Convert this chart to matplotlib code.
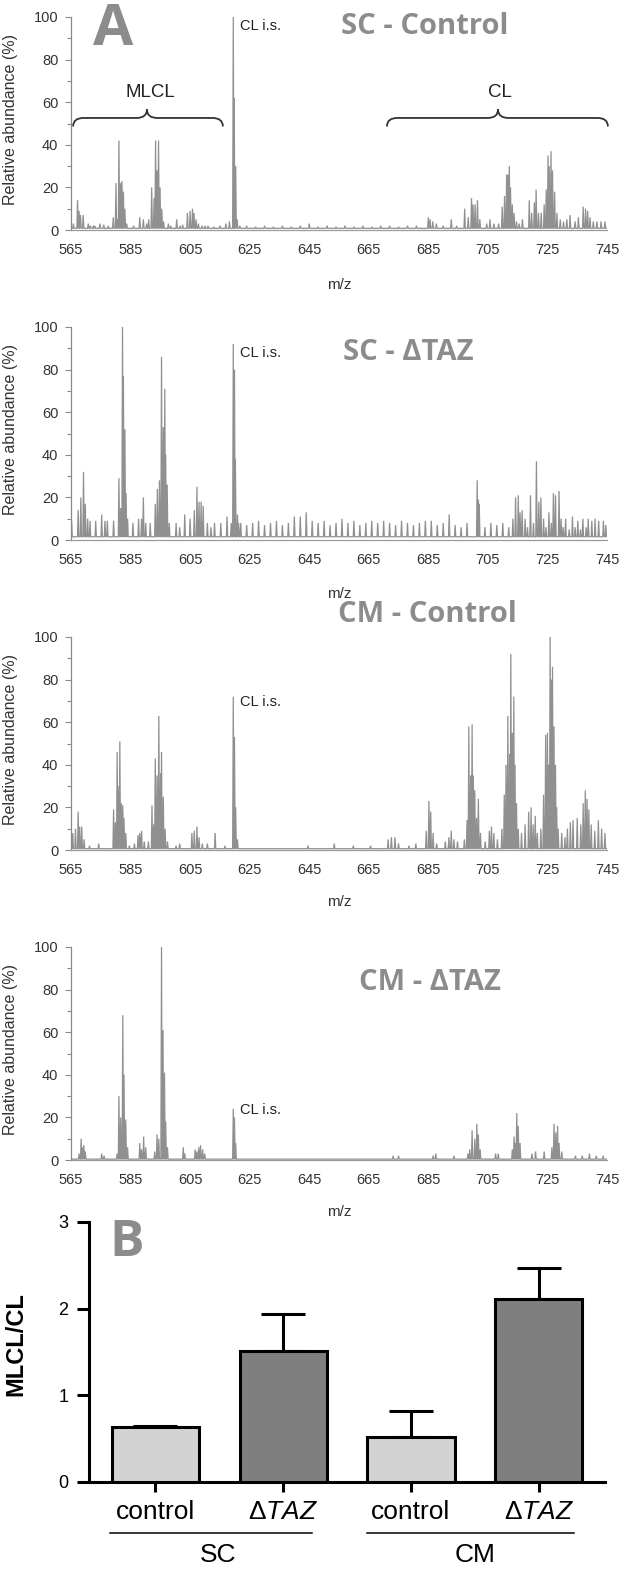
import matplotlib
matplotlib.use('Agg')
import matplotlib.pyplot as plt
import matplotlib.transforms as mtransforms
from matplotlib.path import Path
from matplotlib.patches import PathPatch
from matplotlib.ticker import MultipleLocator

plt.rcParams['font.family'] = ['Liberation Sans', 'DejaVu Sans']
plt.rcParams['mathtext.fontset'] = 'custom'
plt.rcParams['mathtext.rm'] = 'Liberation Sans'
plt.rcParams['mathtext.it'] = 'Liberation Sans:italic'

# ---------------- data: spectra (m/z, relative abundance %) ----------------
sc_control_peaks = [
    (565.8, 3), (567.2, 14), (567.7, 9), (568.2, 7), (569.1, 7), (570.8, 3), (571.5, 2),
    (572.5, 2), (573.0, 2), (574.7, 3), (576.0, 2.5), (577.5, 2), (579.2, 6), (580.1, 22),
    (580.6, 5), (581.1, 42), (581.7, 22), (582.1, 23), (582.6, 18), (583.1, 10), (583.7, 3),
    (586.0, 2), (588.1, 6), (589.3, 5), (590.4, 3), (591.1, 5), (592.1, 20), (592.9, 15),
    (593.4, 42), (593.9, 28), (594.4, 42), (594.9, 20), (595.5, 10), (596.1, 4), (597.7, 3),
    (598.5, 2), (600.5, 5), (601.6, 2), (602.5, 2.5), (604.1, 8), (605.0, 9), (605.8, 10),
    (606.3, 8), (607.0, 5), (607.8, 3), (609.0, 2), (610.0, 2), (611.0, 2), (613.0, 1.5),
    (615.0, 2), (617.0, 3), (618.2, 4), (619.5, 100), (619.8, 62), (620.3, 30), (620.8, 5),
    (621.7, 2), (624, 2), (627, 1.5), (630, 2), (633, 1.5), (636, 2), (639, 1.5), (642, 2),
    (645, 3), (648, 1.5), (651, 2), (654, 1.5), (657, 2), (660, 1.5), (663, 2), (666, 1.5),
    (669, 2), (672, 2), (675, 1.5), (678, 2), (681, 2),
    (685.0, 6), (685.6, 5), (686.5, 4), (687.7, 3), (690.0, 2), (692.7, 5), (694.5, 2),
    (697.2, 10), (698.4, 6), (699.5, 15), (700.0, 12), (700.7, 12), (701.5, 14), (702.3, 5),
    (704.6, 3), (705.7, 5), (707.0, 3), (708.6, 3), (709.8, 11), (710.6, 16), (711.3, 26),
    (711.7, 26), (712.2, 30), (712.6, 20), (713.2, 12), (713.8, 8), (714.6, 4), (715.5, 3),
    (716.6, 5), (718.9, 14), (719.7, 8), (720.6, 13), (721.2, 19), (722.0, 8), (722.9, 8),
    (723.9, 12), (724.6, 19), (725.2, 35), (725.6, 30), (726.2, 37), (726.7, 28), (727.4, 18),
    (728.2, 8), (729.3, 5), (730.4, 4), (731.5, 5), (732.6, 7), (734.3, 4), (735.4, 6),
    (737.0, 11), (737.8, 10), (738.5, 9), (739.3, 6), (740.4, 4), (741.6, 4), (743.0, 4),
    (744.3, 4),
]

sc_taz_peaks = [
    (565.2, 9), (567.4, 14), (568.3, 20), (569.2, 32), (569.8, 17), (570.6, 10), (571.4, 9),
    (573.3, 9), (575.3, 12), (576.4, 9), (577.2, 9), (579.3, 9), (581.1, 29), (581.7, 15),
    (582.3, 100), (582.6, 77), (583.1, 52), (583.5, 22), (584.0, 10), (585.8, 8), (587.7, 10),
    (588.7, 10), (589.3, 20), (590.1, 8), (591.6, 8), (593.3, 17), (594.0, 24), (594.7, 28),
    (595.4, 86), (596.0, 53), (596.5, 71), (596.8, 40), (597.3, 26), (598.0, 8), (600.3, 8),
    (601.5, 6), (603.2, 12), (605.0, 10), (606.4, 14), (607.3, 25), (608.0, 18), (608.7, 18),
    (609.4, 16), (610.8, 8), (612.0, 6), (613.2, 8), (615.3, 8), (617.4, 11), (618.8, 8),
    (619.5, 92), (619.9, 80), (620.2, 38), (620.9, 12), (621.3, 8),
    (622, 8), (624, 7), (626, 8), (628, 9), (630, 7), (632, 8), (634, 9), (636, 7), (638, 8),
    (640, 11), (642, 11), (644, 13), (646, 9), (648, 8), (650, 9), (652, 7), (654, 8),
    (656, 10), (658, 8), (660, 9), (662, 7), (664, 8), (666, 9), (668, 8), (670, 9), (672, 8),
    (674, 7), (676, 9), (678, 8), (680, 7), (682, 8), (684, 9), (686, 9), (688, 7), (690, 8),
    (692, 12), (694, 7), (696, 6), (698, 8),
    (701.4, 28), (701.8, 19), (702.1, 17), (704, 6), (706, 8), (708, 7), (710, 8), (712, 6),
    (713.4, 10), (714.3, 20), (715.2, 21), (715.8, 13), (716.5, 14), (717.5, 10), (718.3, 6),
    (719.3, 21), (720.3, 8), (721.3, 37), (722.1, 18), (722.8, 20), (723.7, 10), (724.5, 6),
    (725.5, 13), (726.3, 8), (727.0, 22), (727.7, 21), (728.9, 23), (729.6, 10), (730.3, 6),
    (731.1, 10), (732.3, 5), (733.4, 11), (734.3, 6), (735.2, 9), (736.1, 5), (736.9, 10),
    (738.0, 6), (738.7, 10), (739.9, 9), (741.0, 10), (742.2, 9), (743.8, 9), (744.6, 7),
]

cm_control_peaks = [
    (565.6, 8), (566.5, 10), (567.4, 18), (567.9, 11), (568.6, 11), (569.4, 5), (571.2, 2),
    (574.3, 3), (579.3, 19), (579.9, 13), (580.5, 46), (581.1, 30), (581.4, 51), (581.9, 22),
    (582.4, 21), (582.8, 15), (583.4, 8), (584.6, 2), (586.3, 3), (587.5, 7), (588.1, 8),
    (588.7, 9), (589.6, 4), (591.0, 4), (592.2, 21), (592.8, 12), (593.3, 43), (593.9, 35),
    (594.5, 63), (595.1, 36), (595.4, 46), (596.0, 25), (596.6, 10), (597.4, 4), (600.3, 2),
    (601.5, 3), (605.6, 8), (606.4, 9), (607.3, 11), (608.0, 6), (609.1, 3), (610.8, 3),
    (613.4, 8), (616.7, 2), (619.5, 72), (619.9, 53), (620.3, 20), (620.9, 5),
    (644.6, 2), (653.4, 3), (659.8, 2), (665.6, 2), (671.5, 5), (672.6, 6), (673.8, 6),
    (675.0, 3), (678.5, 2), (680.8, 3), (684.3, 9), (685.2, 23), (685.8, 18), (686.6, 8),
    (687.8, 3), (690.7, 4), (691.9, 6), (692.7, 9), (693.6, 5), (694.8, 4), (697.1, 5),
    (698.0, 14), (698.6, 58), (699.2, 35), (699.7, 59), (700.1, 35), (700.6, 28), (701.2, 15),
    (701.8, 24), (702.5, 8), (704.1, 4), (705.5, 9), (706.2, 11), (707.0, 8), (708.2, 5),
    (709.7, 10), (710.5, 26), (711.1, 40), (711.7, 63), (712.3, 45), (712.7, 92), (713.2, 55),
    (713.7, 72), (714.1, 40), (714.6, 22), (715.2, 10), (716.3, 8), (717.5, 12), (718.7, 18),
    (719.5, 20), (720.2, 12), (720.9, 16), (721.6, 8), (722.8, 10), (723.7, 26), (724.4, 54),
    (725.0, 55), (725.4, 40), (725.9, 100), (726.4, 80), (726.7, 86), (727.2, 58), (727.7, 40),
    (728.1, 20), (728.6, 10), (729.8, 8), (730.9, 6), (731.7, 10), (732.7, 13), (733.6, 14),
    (735.0, 15), (736.2, 12), (737.0, 22), (737.7, 28), (738.3, 24), (738.9, 19), (739.7, 12),
    (740.9, 9), (742.1, 14), (743.2, 10), (744.3, 8),
]

cm_taz_peaks = [
    (567.7, 3), (568.4, 10), (568.8, 6), (569.3, 7), (569.8, 4), (575.3, 3), (576.1, 2),
    (580.5, 3), (581.1, 30), (581.7, 20), (582.4, 68), (582.8, 40), (583.4, 19), (584.0, 6),
    (588.1, 8), (588.7, 5), (589.4, 11), (590.1, 6), (593.1, 4), (593.9, 12), (594.5, 10),
    (595.4, 100), (595.9, 61), (596.4, 41), (596.8, 18), (597.4, 6), (602.7, 6), (603.2, 3),
    (606.7, 5), (607.3, 4), (607.9, 6), (608.5, 7), (609.2, 5), (609.9, 3), (619.5, 24),
    (619.9, 20), (620.3, 8), (673.2, 2), (675.0, 2), (686.6, 2), (687.5, 3), (693.6, 2),
    (698.3, 3), (698.9, 5), (699.7, 14), (700.6, 10), (701.3, 17), (701.8, 12), (702.4, 5),
    (707.6, 3), (708.5, 3), (713.2, 5), (713.8, 11), (714.2, 8), (714.7, 22), (715.2, 16),
    (715.8, 8), (719.8, 3), (721.0, 4), (723.9, 4), (726.5, 6), (727.2, 17), (727.8, 13),
    (728.4, 16), (728.9, 8), (729.8, 4), (734.4, 2), (736.7, 2), (739.1, 3), (741.4, 2),
    (743.7, 2),
]

spectra_titles = ['SC - Control', 'SC - ΔTAZ', 'CM - Control', 'CM - ΔTAZ']
spectra_base = [0.8, 1.5, 0.6, 0.4]
mz_ticks = [565, 585, 605, 625, 645, 665, 685, 705, 725, 745]

# ---------------- data: panel B ----------------
groups = ['SC', 'CM']
conditions = ['control', r'$\Delta\mathit{TAZ}$', 'control', r'$\Delta\mathit{TAZ}$']
ratio_mean = [0.63, 1.51, 0.52, 2.11]
ratio_err = [0.02, 0.43, 0.30, 0.36]
bar_colors = ['#d3d3d3', '#7f7f7f', '#d3d3d3', '#7f7f7f']

W, H = 629, 1574
fig = plt.figure(figsize=(W / 100, H / 100), dpi=100)


def px_axes(left, top, right, bottom):
    return fig.add_axes([left / W, 1 - bottom / H, (right - left) / W, (bottom - top) / H])


def ftext(x, y, s, **kw):
    fig.text(x / W, 1 - y / H, s, **kw)


def brace(ax, x0, x1, xt, y, h, d):
    verts = [(x0, y - h), (x0, y), (x0 + d, y), (xt - d, y), (xt, y), (xt, y + h),
             (xt, y), (xt + d, y), (x1 - d, y), (x1, y), (x1, y - h)]
    codes = [Path.MOVETO, Path.CURVE3, Path.CURVE3, Path.LINETO, Path.CURVE3, Path.CURVE3,
             Path.CURVE3, Path.CURVE3, Path.LINETO, Path.CURVE3, Path.CURVE3]
    ax.add_patch(PathPatch(Path(verts, codes), fc='none', ec='#333333', lw=1.3, clip_on=False))


def draw_spectrum(ax, peaks, base):
    peaks = sorted(peaks)
    xs, ys = [565], [base]
    for mz, h in peaks:
        xs += [mz - 0.22, mz, mz + 0.22]
        ys += [base, h, base]
    xs.append(745)
    ys.append(base)
    ax.plot(xs, ys, color='#909090', lw=0.9, solid_joinstyle='miter')


spec_boxes = [(71, 17, 607, 230), (71, 327, 607, 540), (71, 637, 607, 850), (71, 947, 607, 1160)]
all_peaks = [sc_control_peaks, sc_taz_peaks, cm_control_peaks, cm_taz_peaks]
mz_label_y = [-0.225, -0.22, -0.211, -0.211]
cl_is_y = [96, 88, 69.5, 23.5]
title_pos = [(425, 26), (408, 352), (427, 615), (430, 982)]

for i, box in enumerate(spec_boxes):
    ax = px_axes(*box)
    draw_spectrum(ax, all_peaks[i], spectra_base[i])
    ax.set_xlim(565, 745)
    ax.set_ylim(0, 100)
    for s in ['top', 'right']:
        ax.spines[s].set_visible(False)
    ax.spines['left'].set_color('#8a8a8a')
    ax.spines['bottom'].set_color('#9a9a9a')
    ax.spines['left'].set_linewidth(0.9)
    ax.spines['bottom'].set_linewidth(0.9)
    ax.set_xticks(mz_ticks)
    ax.set_yticks([0, 20, 40, 60, 80, 100])
    ax.yaxis.set_minor_locator(MultipleLocator(10))
    ax.tick_params(axis='x', length=0, pad=9, labelsize=10.5, labelcolor='#333333')
    ax.tick_params(axis='y', which='major', length=4, width=0.8, color='#8a8a8a', pad=5,
                   labelsize=10.5, labelcolor='#333333')
    ax.tick_params(axis='y', which='minor', length=3, width=0.8, color='#8a8a8a')
    ax.set_ylabel('Relative abundance (%)', fontsize=11.5, color='#333333')
    ax.yaxis.set_label_coords(-0.099, 0.52)
    ax.set_xlabel('m/z', fontsize=11, color='#333333')
    ax.xaxis.set_label_coords(0.5, mz_label_y[i])
    ax.text(621.7, cl_is_y[i], 'CL i.s.', fontsize=10.5, color='#222222', va='center', ha='left')
    tx, ty = title_pos[i]
    ftext(tx, ty, spectra_titles[i], family=['Open Sans', 'DejaVu Sans'], fontweight='bold',
          fontsize=21, color='#8c8c8c', ha='center', va='center')
    if i == 0:
        brace(ax, 565.7, 616.0, 590.5, 52.6, 4.0, 3.5)
        brace(ax, 671.1, 745.3, 708.4, 52.6, 4.0, 3.5)
        ax.text(591.5, 64.5, 'MLCL', fontsize=13.5, color='#222222', ha='center', va='center')
        ax.text(709.0, 64.5, 'CL', fontsize=13.5, color='#222222', ha='center', va='center')

ftext(113, 30, 'A', family=['Open Sans', 'DejaVu Sans'], fontweight='bold', fontsize=42,
      color='#8c8c8c', ha='center', va='center')

# ---------------- panel B ----------------
axb = px_axes(89, 1222, 605, 1482)
xpos = list(range(len(ratio_mean)))
axb.bar(xpos, ratio_mean, width=0.68, color=bar_colors, edgecolor='black', linewidth=2.2, zorder=3)
axb.errorbar(xpos, ratio_mean, yerr=[[0] * len(ratio_err), ratio_err], fmt='none',
             ecolor='black', elinewidth=2.2, capsize=16, capthick=2.2, zorder=2)
axb.set_xlim(-0.516, 3.516)
axb.set_ylim(0, 3)
axb.set_yticks([0, 1, 2, 3])
axb.set_xticks(xpos)
axb.set_xticklabels(conditions)
for s in ['top', 'right']:
    axb.spines[s].set_visible(False)
axb.spines['left'].set_linewidth(2.2)
axb.spines['bottom'].set_linewidth(2.2)
axb.tick_params(axis='y', length=9, width=2.2, pad=6, labelsize=13)
axb.tick_params(axis='x', length=7, width=2.2, pad=6, labelsize=19)
axb.set_ylabel('MLCL/CL', fontsize=17, fontweight='bold')
axb.yaxis.set_label_coords(-0.12, 0.53)

trans = mtransforms.blended_transform_factory(axb.transData, axb.transAxes)
group_spans = [(-0.35, 1.23), (1.66, 3.27)]
group_label_x = [0.49, 2.5]
for g, (a, b), gx in zip(groups, group_spans, group_label_x):
    axb.plot([a, b], [-0.196, -0.196], color='black', lw=1.1, transform=trans, clip_on=False)
    axb.text(gx, -0.281, g, fontsize=19, ha='center', va='center', transform=trans)

ftext(127, 1243, 'B', family=['Open Sans', 'DejaVu Sans'], fontweight='bold', fontsize=37,
      color='#8c8c8c', ha='center', va='center')

fig.savefig('out.png', dpi=100)
